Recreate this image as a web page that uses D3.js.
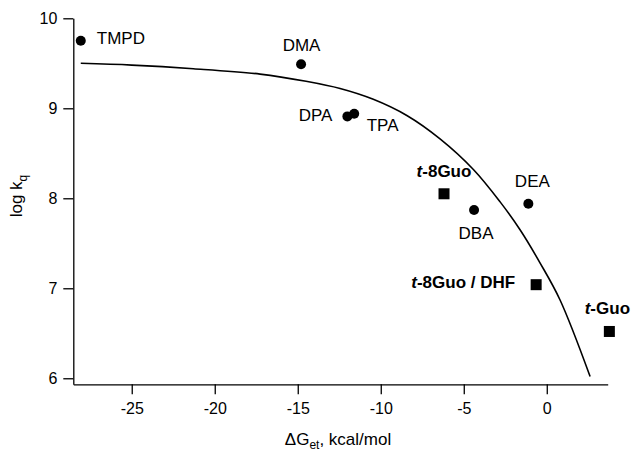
<!DOCTYPE html>
<html>
<head>
<meta charset="utf-8">
<script src="https://cdn.jsdelivr.net/npm/d3@7"></script>
<style>
  body { margin: 0; background: #fff; }
  svg { font-family: "Liberation Sans", Arial, Helvetica, sans-serif; }
  .axis path, .axis line { stroke: #000; stroke-width: 1.3; }
  .axis text { font-size: 16px; fill: #000; font-family: "Liberation Sans", Arial, sans-serif; }
</style>
</head>
<body>
<div id="chart"></div>
<script>
// amines (circles)
const amineNames = ["TMPD", "DMA", "DPA", "TPA", "DBA", "DEA"];
const amineDG = [-28.07, -14.8, -12.01, -11.6, -4.38, -1.11];
const amineLogK = [9.75, 9.49, 8.91, 8.94, 7.87, 7.94];

// guanosine compounds (squares)
const guoNames = ["t-8Guo", "t-8Guo / DHF", "t-Guo"];
const guoDG = [-6.19, -0.64, 3.77];
const guoLogK = [8.05, 7.04, 6.52];

// fitted curve
const fitDG = [-28.07, -25, -21.29, -17.27, -14.5, -12.45, -10.45, -8.43, -6.43, -4.42, -2.81, -1.61, -0.40, 0.80, 2.61];
const fitLogK = [9.50, 9.48, 9.44, 9.38, 9.30, 9.22, 9.10, 8.92, 8.66, 8.32, 7.96, 7.65, 7.28, 6.87, 6.02];

const xTicks = [-25, -20, -15, -10, -5, 0];
const yTicks = [6, 7, 8, 9, 10];

const WIDTH = 633, HEIGHT = 450;

// label placement relative to marker (px)
const labelPos = {
  "TMPD": {dx: 16, dy: 3.6, anchor: "start"},
  "DMA": {dx: 0.5, dy: -13, anchor: "middle"},
  "DPA": {dx: -15, dy: 5, anchor: "end"},
  "TPA": {dx: 12.5, dy: 17.7, anchor: "start"},
  "DBA": {dx: 2, dy: 29, anchor: "middle"},
  "DEA": {dx: 4, dy: -16.3, anchor: "middle"},
  "t-8Guo": {dx: 0, dy: -16.7, anchor: "middle"},
  "t-8Guo / DHF": {dx: -21, dy: 3.3, anchor: "end"},
  "t-Guo": {dx: -2, dy: -17.7, anchor: "middle"}
};

const svg = d3.select("#chart")
  .append("svg")
    .attr("width", WIDTH)
    .attr("height", HEIGHT);

const X_SCALE = d3.scaleLinear()
  .domain([-28.52, 3.67])
  .range([73.3, 607.7]);

const Y_SCALE = d3.scaleLinear()
  .domain([5.933, 10])
  .range([384.3, 18.3]);

// axes (plain hyphen minus like the original)
const fmt = d => String(d);

svg.append("g")
  .attr("class", "axis")
  .attr("transform", "translate(0," + Y_SCALE(5.933) + ")")
  .call(d3.axisBottom(X_SCALE).tickValues(xTicks).tickFormat(fmt).tickSize(10).tickSizeOuter(0).tickPadding(8))
  .call(g => g.selectAll("text").attr("dy", "0.74em"));

svg.append("g")
  .attr("class", "axis")
  .attr("transform", "translate(" + X_SCALE(-28.52) + ",0)")
  .call(d3.axisLeft(Y_SCALE).tickValues(yTicks).tickFormat(fmt).tickSize(10).tickSizeOuter(0).tickPadding(6));

svg.selectAll(".axis .domain").attr("fill", "none");

// fit curve
const fitData = fitDG.map((d, i) => ({x: d, y: fitLogK[i]}));
const line = d3.line()
  .x(d => X_SCALE(d.x))
  .y(d => Y_SCALE(d.y))
  .curve(d3.curveCatmullRom.alpha(0.5));

svg.append("path")
  .datum(fitData)
  .attr("d", line)
  .attr("fill", "none")
  .attr("stroke", "#000")
  .attr("stroke-width", 1.6);

// amine points
const amines = amineNames.map((n, i) => ({name: n, x: amineDG[i], y: amineLogK[i]}));
svg.selectAll(".amine")
  .data(amines)
  .enter()
  .append("circle")
    .attr("class", "amine")
    .attr("cx", d => X_SCALE(d.x))
    .attr("cy", d => Y_SCALE(d.y))
    .attr("r", 5)
    .attr("fill", "#000");

svg.selectAll(".amine-label")
  .data(amines)
  .enter()
  .append("text")
    .attr("class", "amine-label")
    .attr("x", d => X_SCALE(d.x) + labelPos[d.name].dx)
    .attr("y", d => Y_SCALE(d.y) + labelPos[d.name].dy)
    .attr("text-anchor", d => labelPos[d.name].anchor)
    .attr("font-size", 17)
    .text(d => d.name);

// guanosine points
const guos = guoNames.map((n, i) => ({name: n, x: guoDG[i], y: guoLogK[i]}));
const SQ = 11;
svg.selectAll(".guo")
  .data(guos)
  .enter()
  .append("rect")
    .attr("class", "guo")
    .attr("x", d => X_SCALE(d.x) - SQ / 2)
    .attr("y", d => Y_SCALE(d.y) - SQ / 2)
    .attr("width", SQ)
    .attr("height", SQ)
    .attr("fill", "#000");

const guoLabels = svg.selectAll(".guo-label")
  .data(guos)
  .enter()
  .append("text")
    .attr("class", "guo-label")
    .attr("x", d => X_SCALE(d.x) + labelPos[d.name].dx)
    .attr("y", d => Y_SCALE(d.y) + labelPos[d.name].dy)
    .attr("text-anchor", d => labelPos[d.name].anchor)
    .attr("font-size", 17)
    .attr("font-weight", "bold");

guoLabels.append("tspan")
  .attr("font-style", "italic")
  .text("t");
guoLabels.append("tspan")
  .text(d => d.name.slice(1));

// axis titles
const xTitle = svg.append("text")
  .attr("x", 338)
  .attr("y", 445)
  .attr("text-anchor", "middle")
  .attr("font-size", 17);
xTitle.append("tspan").text("\u0394G");
xTitle.append("tspan").attr("font-size", 12).attr("dy", 4).text("et");
xTitle.append("tspan").attr("dy", -4).text(", kcal/mol");

const yTitle = svg.append("text")
  .attr("transform", "translate(22,196) rotate(-90)")
  .attr("text-anchor", "middle")
  .attr("font-size", 17);
yTitle.append("tspan").text("log k");
yTitle.append("tspan").attr("font-size", 12).attr("dy", 5).text("q");
</script>
</body>
</html>
